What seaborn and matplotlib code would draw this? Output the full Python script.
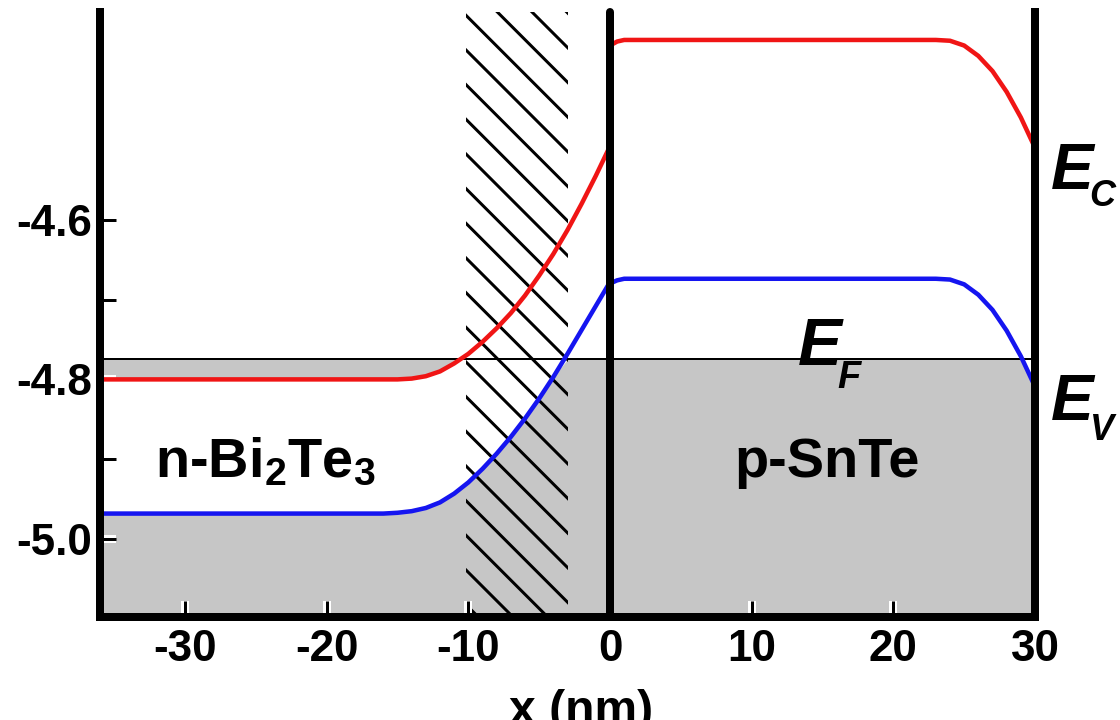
import numpy as np
import matplotlib
matplotlib.use("Agg")
import matplotlib.pyplot as plt
import matplotlib.patheffects as pe
import seaborn as sns

# ---- band-edge data (energy in eV vs position in nm) ----
# n-Bi2Te3 side (x <= 0)
x_left = [-36, -16, -15, -14, -13, -12, -11, -10, -9, -8, -7, -6, -5, -4, -3, -2, -1, 0]
ec_left = [-4.800, -4.800, -4.800, -4.799, -4.796, -4.790, -4.780, -4.768, -4.753,
           -4.736, -4.717, -4.695, -4.670, -4.643, -4.613, -4.580, -4.545, -4.508]
ev_left = [-4.968, -4.968, -4.967, -4.965, -4.961, -4.954, -4.943, -4.929, -4.912,
           -4.893, -4.872, -4.849, -4.824, -4.797, -4.768, -4.738, -4.708, -4.678]

# p-SnTe side (x >= 0)
x_right = [0, 0.5, 1, 23, 24, 25, 26, 27, 28, 29, 30]
ec_right = [-4.382, -4.377, -4.375, -4.375, -4.376, -4.382, -4.395, -4.414, -4.440, -4.472, -4.510]
ev_right = [-4.680, -4.676, -4.674, -4.674, -4.675, -4.681, -4.694, -4.713, -4.739, -4.771, -4.809]

# Fermi level and interface (hatched) region
e_fermi = -4.775
interface_x = [-10.2, -3.0]

# axes ticks
xtick_vals = [-30, -20, -10, 0, 10, 20, 30]
xtick_labels = ["-30", "-20", "-10", "0", "10", "20", "30"]
ytick_vals = [-5.0, -4.8, -4.6]
ytick_labels = ["-5.0", "-4.8", "-4.6"]
ytick_minor = [-4.9, -4.7]

DPI = 208


def px(v):
    """pixels -> points at the figure dpi"""
    return v * 72.0 / DPI


sns.set_theme(style="white")
plt.rcParams.update({
    "font.family": ["Liberation Sans", "DejaVu Sans"],
    "font.weight": "bold",
    "axes.unicode_minus": False,
    "mathtext.default": "regular",
    "hatch.linewidth": px(3),
    "hatch.color": "black",
})

fig = plt.figure(figsize=(1120 / DPI, 720 / DPI), dpi=DPI)
ax = fig.add_axes([100 / 1120, 103 / 720, 935 / 1120, 605 / 720])
ax.set_xlim(-36, 30)
ax.set_ylim(-5.0975, -4.34)
ax.set_axisbelow(False)
y_floor = ax.get_ylim()[0]

GRAY = "#c6c6c6"
RED = "#f01515"
BLUE = "#1515f0"

# occupied states (below the Fermi level, outside the gap)
for xs, ec, ev in [(x_left, ec_left, ev_left), (x_right, ec_right, ev_right)]:
    xs = np.asarray(xs)
    ec = np.asarray(ec)
    ev = np.asarray(ev)
    ax.fill_between(xs, y_floor, np.minimum(ev, e_fermi), color=GRAY, lw=0, zorder=1)
    ax.fill_between(xs, ec, e_fermi, where=ec < e_fermi, interpolate=True,
                    color=GRAY, lw=0, zorder=1)

# hatched interface layer
ax.axvspan(interface_x[0], interface_x[1], facecolor="none", edgecolor="black",
           hatch="\\\\", linewidth=0, zorder=2)

# Fermi level
ax.axhline(e_fermi, color="black", lw=px(2), zorder=3)

# band edges
sns.lineplot(x=x_left, y=ec_left, color=RED, lw=px(4.5), ax=ax, errorbar=None, zorder=4)
sns.lineplot(x=x_left, y=ev_left, color=BLUE, lw=px(4.5), ax=ax, errorbar=None, zorder=4)
sns.lineplot(x=x_right, y=ec_right, color=RED, lw=px(4.5), ax=ax, errorbar=None, zorder=4)
sns.lineplot(x=x_right, y=ev_right, color=BLUE, lw=px(4.5), ax=ax, errorbar=None, zorder=4)

# junction line
ax.axvline(0, color="black", lw=px(8), zorder=6, solid_capstyle="round", clip_on=False)

# frame
ax.spines["top"].set_visible(False)
for side in ["left", "right", "bottom"]:
    ax.spines[side].set_linewidth(px(8))
    ax.spines[side].set_color("black")
    ax.spines[side].set_zorder(7)

ax.set_xticks(xtick_vals)
ax.set_xticklabels(xtick_labels)
ax.set_yticks(ytick_vals)
ax.set_yticklabels(ytick_labels)
ax.set_yticks(ytick_minor, minor=True)
ax.tick_params(axis="both", which="both", direction="in", length=px(16), width=px(3),
               color="black", labelsize=px(44), labelcolor="black",
               bottom=True, left=True, top=False, right=False)
ax.tick_params(axis="x", pad=px(12))
ax.tick_params(axis="y", pad=px(8))
ax.grid(False)

halo = [pe.withStroke(linewidth=px(8), foreground="white")]
for tk in ax.xaxis.get_major_ticks() + ax.yaxis.get_major_ticks() + ax.yaxis.get_minor_ticks():
    tk.tick1line.set_path_effects(halo)

ax.set_xlabel("x (nm)", fontsize=px(48), fontweight="bold", color="black")
ax.xaxis.set_label_coords(0.514, -0.119)
ax.set_ylabel("")

# region labels
ax.text(-32.1, -4.905, r"n-Bi$_2$Te$_3$", fontsize=px(56), fontweight="bold",
        ha="left", va="center", color="black", zorder=8)
ax.text(8.8, -4.905, "p-SnTe", fontsize=px(56), fontweight="bold",
        ha="left", va="center", color="black", zorder=8)

# energy labels
lab = dict(fontweight="bold", style="italic", color="black", va="baseline",
           ha="left", clip_on=False, zorder=8)
ax.text(13.27, -4.7825, "E", fontsize=px(66), **lab)
ax.text(16.05, -4.811, "F", fontsize=px(38), **lab)
ax.text(31.15, -4.561, "E", fontsize=px(64), **lab)
ax.text(33.85, -4.5825, "C", fontsize=px(36), **lab)
ax.text(31.15, -4.851, "E", fontsize=px(64), **lab)
ax.text(33.85, -4.876, "V", fontsize=px(36), **lab)

fig.savefig("out.png", dpi=DPI)
